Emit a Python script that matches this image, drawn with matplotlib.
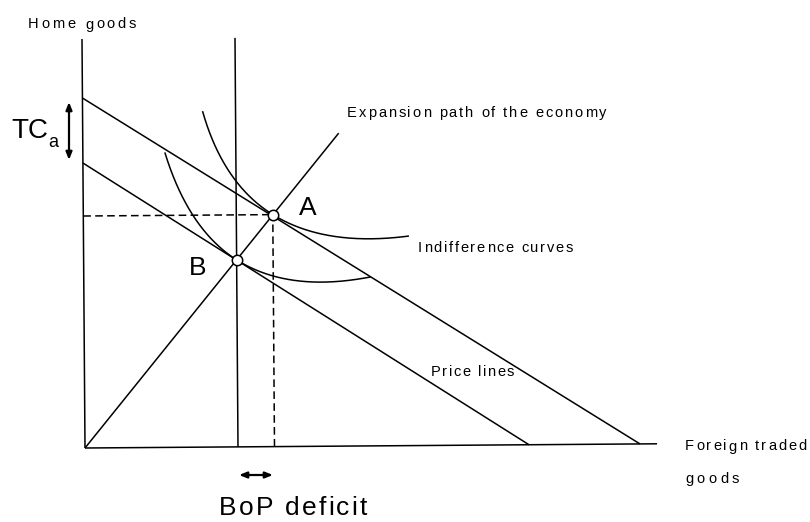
import matplotlib
matplotlib.use("Agg")
import matplotlib.pyplot as plt
import numpy as np
from matplotlib.transforms import Affine2D
from matplotlib.font_manager import FontProperties, findfont
from matplotlib.ft2font import FT2Font

# ---------------- data (diagram units, origin at the axes corner) ----------------
y_axis_top = 409.0
x_axis_end = 572.0
upper_price_line = [(0.0, 350.0), (555.0, 0.0)]
lower_price_line = [(0.0, 285.0), (444.0, 0.0)]
point_A = (189.5, 232.0)
point_B = (153.0, 187.0)
expansion_end = (256.0, 313.0)
bop_line_top = 409.0
upper_ic_start = (120.0, 336.0)
upper_ic_end = (325.5, 209.6)
lower_ic_start = (82.0, 295.0)
lower_ic_end = (287.0, 169.0)
upper_ic_ctrl_dx = (49.5, 52.0)
lower_ic_ctrl_dx = (48.0, 52.0)
tc_arrow = (-16.0, 346.0, 288.0)
bop_arrow = (-27.0, 154.0, 188.0)

FONT = "Liberation Sans"

fig = plt.figure(figsize=(8.10, 5.22), dpi=100)
ax = fig.add_axes([0, 0, 1, 1])
OX, OY = 85.0, 448.0
ax.set_xlim(-OX, 810 - OX)
ax.set_ylim(-(522 - OY), OY)
ax.axis("off")

tr = Affine2D().rotate_deg(0.42) + ax.transData
LW = 1.1
kw = dict(color="black", lw=LW, transform=tr, solid_capstyle="butt")

def slope(line):
    (x0, y0), (x1, y1) = line
    return (y1 - y0) / (x1 - x0)

def bezier2(p0, c, p1, n=200):
    t = np.linspace(0, 1, n)[:, None]
    p0, c, p1 = map(np.asarray, (p0, c, p1))
    pts = (1 - t) ** 2 * p0 + 2 * t * (1 - t) * c + t ** 2 * p1
    return pts[:, 0], pts[:, 1]

# axes
ax.plot([0, 0], [0, y_axis_top], **kw)
ax.plot([0, x_axis_end], [0, 0], **kw)
# price lines
for ln in (upper_price_line, lower_price_line):
    ax.plot([ln[0][0], ln[1][0]], [ln[0][1], ln[1][1]], **kw)
# expansion path
ax.plot([0, expansion_end[0]], [0, expansion_end[1]], **kw)
# vertical line through B
ax.plot([point_B[0], point_B[0]], [0, bop_line_top], **kw)
# dashed lines from A
dkw = dict(color="black", lw=LW, transform=tr, dashes=(5.0, 2.8))
ax.plot([point_A[0], point_A[0]], [0, point_A[1]], **dkw)
ax.plot([0, point_A[0]], [point_A[1], point_A[1]], **dkw)

# indifference curves: two quadratic pieces tangent to price lines
def ic(start, tang, end, m, dxs):
    c1 = (tang[0] - dxs[0], tang[1] - m * dxs[0])
    c2 = (tang[0] + dxs[1], tang[1] + m * dxs[1])
    x1, y1 = bezier2(start, c1, tang)
    x2, y2 = bezier2(tang, c2, end)
    ax.plot(np.r_[x1, x2], np.r_[y1, y2], **kw)

ic(upper_ic_start, point_A, upper_ic_end, slope(upper_price_line), upper_ic_ctrl_dx)
ic(lower_ic_start, point_B, lower_ic_end, slope(lower_price_line), lower_ic_ctrl_dx)

# points
for p in (point_A, point_B):
    ax.plot([p[0]], [p[1]], marker="o", ms=7.5, mfc="white", mec="black",
            mew=1.1, transform=tr, zorder=5)

# arrows
aprops = dict(arrowstyle="<|-|>,head_length=0.45,head_width=0.18", lw=1.6,
              color="black", shrinkA=0, shrinkB=0)
ax.annotate("", xy=(tc_arrow[0], tc_arrow[1]), xytext=(tc_arrow[0], tc_arrow[2]),
            arrowprops=aprops)
ax.annotate("", xy=(bop_arrow[1], bop_arrow[0]), xytext=(bop_arrow[2], bop_arrow[0]),
            arrowprops=aprops)

# ---------------- text ----------------
fp_file = findfont(FontProperties(family=FONT))

def advances(s, size):
    f = FT2Font(fp_file)
    f.set_size(size, 100)
    out = []
    for ch in s:
        g = f.load_char(ord(ch))
        out.append(g.linearHoriAdvance / 65536.0)
    return out

def tracked(s, px_left, px_right, px_base, size):
    adv = advances(s, size)
    n = len(s)
    track = (px_right - px_left - sum(adv)) / max(n - 1, 1)
    x = px_left
    for ch, a in zip(s, adv):
        if ch != " ":
            ax.text(x - OX, OY - px_base, ch, fontsize=size, family=FONT,
                    ha="left", va="baseline", color="black")
        x += a + track

SMALL = 10.5
tracked("Home goods", 28, 136, 28.5, SMALL)
tracked("Expansion path of the economy", 347, 606, 117, SMALL)
tracked("Indifference curves", 418, 573, 251.5, SMALL)
tracked("Price lines", 431, 514, 376.5, SMALL)
tracked("Foreign traded", 685, 807, 450.5, SMALL)
tracked("goods", 685, 739, 483, SMALL)
tracked("BoP deficit", 219, 367, 515, 19)

def ptext(px, pbase, s, size):
    ax.text(px - OX, OY - pbase, s, fontsize=size, family=FONT,
            ha="left", va="baseline", color="black")

ptext(11, 138, "TC", 20)
ptext(48, 147, "a", 13)
ptext(299, 215, "A", 19)
ptext(189, 275, "B", 19)

fig.savefig("out.png", dpi=100)
